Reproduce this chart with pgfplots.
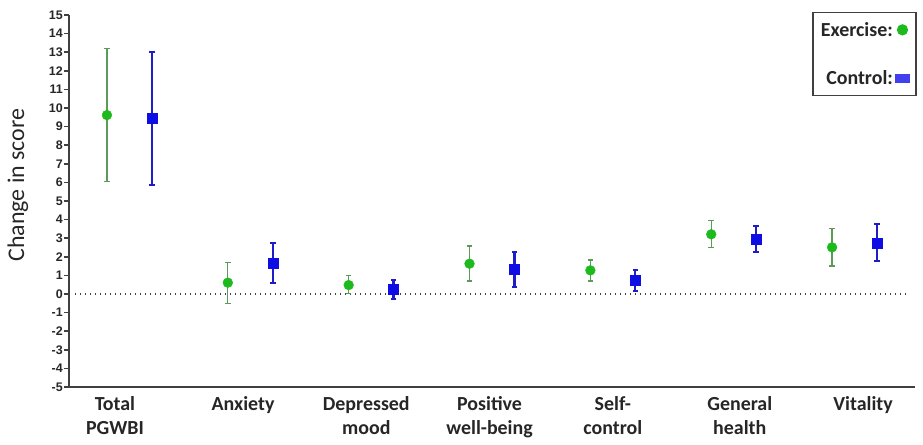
\documentclass[border=0pt]{standalone}
\usepackage{pgfplots}
\usepackage{pgfplotstable}
\pgfplotsset{compat=1.18}
\usepackage{fontspec}
\setmainfont{Carlito}
\newfontfamily\arialfont{Liberation Sans}
\definecolor{exg}{RGB}{28,186,28}
\definecolor{exbar}{RGB}{90,155,90}
\definecolor{cob}{RGB}{14,14,228}
\definecolor{cobbar}{RGB}{30,30,200}
\definecolor{legblue}{RGB}{64,64,238}
\definecolor{axgray}{RGB}{64,64,64}

\pgfplotstableread{
x y ep em
-0.186 9.62 3.58 3.58
0.814 0.61 1.08 1.11
1.814 0.48 0.52 0.44
2.814 1.63 0.95 0.93
3.814 1.27 0.56 0.57
4.814 3.21 0.74 0.72
5.814 2.51 1.01 1.00
}\exercise

\pgfplotstableread{
x y ep em
0.186 9.45 3.58 3.61
1.186 1.67 1.09 1.09
2.186 0.24 0.50 0.51
3.186 1.33 0.93 0.93
4.186 0.74 0.55 0.56
5.186 2.94 0.74 0.70
6.186 2.74 1.01 0.98
}\control

\begin{document}
\begin{tikzpicture}
\begin{axis}[
  scale only axis,
  width=846bp, height=372bp,
  xmin=-0.5, xmax=6.5,
  ymin=-5, ymax=15,
  axis x line*=bottom,
  axis y line*=left,
  axis line style={-, axgray, line width=1.8bp},
  ytick={-5,-4,...,15},
  xtick={-0.12,0.94,1.96,2.98,4,5.05,6.07},
  xticklabels={{Total\\PGWBI},{Anxiety},{Depressed\\mood},{Positive\\well-being},{Self-\\control},{General\\health},{Vitality}},
  xtick style={draw=none},
  ytick style={axgray, line width=1.5bp},
  tick align=outside,
  major tick length=5bp,
  /pgf/number format/assume math mode=true,
  yticklabel style={font=\arialfont\bfseries\fontsize{12.5}{12.5}\selectfont, inner sep=1bp, text=black!85},
  xticklabel style={font=\bfseries\fontsize{20}{24.5}\selectfont, align=center, anchor=north, inner sep=0bp, yshift=-4bp, text=black!85},
  ylabel={Change in score},
  ylabel style={font=\fontsize{24}{24}\selectfont, at={(axis description cs:-0.0603,0.543)}, anchor=center, text=black!85},
  legend plot pos=right,
  legend cell align=right,
  legend style={at={(axis description cs:1.002,1.008)}, anchor=north east,
    draw=axgray, line width=1.2bp, font=\bfseries\fontsize{20}{20}\selectfont,
    row sep=29bp, inner xsep=6bp, inner ysep=7.5bp, text=black!85},
  clip=false,
]
\addlegendimage{legend image code/.code={\fill[exg] (0.2cm,0) circle (5bp);}}
\addlegendentry{Exercise:}
\addlegendimage{legend image code/.code={\fill[legblue] (0.2cm-7bp,-4bp) rectangle (0.2cm+7bp,4bp);}}
\addlegendentry{Control:}

\addplot[black!75, line width=1.4bp, dash pattern=on 1.4bp off 3.6bp, forget plot] coordinates {(-0.45,0) (6.44,0)};

% exercise error bars and caps
\addplot[only marks, mark=none, forget plot,
  error bars/.cd, y dir=both, y explicit,
  error mark=none,
  error bar style={exbar, line width=1.3bp}]
  table[x=x, y=y, y error plus=ep, y error minus=em] {\exercise};
\addplot[only marks, mark=-, mark size=2.8bp, mark options={exbar, line width=1.3bp}, forget plot]
  table[x=x, y expr=\thisrow{y}+\thisrow{ep}] {\exercise};
\addplot[only marks, mark=-, mark size=2.8bp, mark options={exbar, line width=1.3bp}, forget plot]
  table[x=x, y expr=\thisrow{y}-\thisrow{em}] {\exercise};
\addplot[only marks, mark=*, mark size=4.9bp, color=exg, forget plot]
  table[x=x, y=y] {\exercise};

% control error bars and caps
\addplot[only marks, mark=none, forget plot,
  error bars/.cd, y dir=both, y explicit,
  error mark=none,
  error bar style={cobbar, line width=2.3bp}]
  table[x=x, y=y, y error plus=ep, y error minus=em] {\control};
\addplot[only marks, mark=-, mark size=2.8bp, mark options={cobbar, line width=2bp}, forget plot]
  table[x=x, y expr=\thisrow{y}+\thisrow{ep}] {\control};
\addplot[only marks, mark=-, mark size=2.8bp, mark options={cobbar, line width=2bp}, forget plot]
  table[x=x, y expr=\thisrow{y}-\thisrow{em}] {\control};
\addplot[only marks, mark=square*, mark size=5bp, color=cob, forget plot]
  table[x=x, y=y] {\control};
\end{axis}
\pgfresetboundingbox
\path (current axis.south west) ++(-69bp,-58bp) rectangle ++(923bp,445bp);
\end{tikzpicture}
\end{document}
